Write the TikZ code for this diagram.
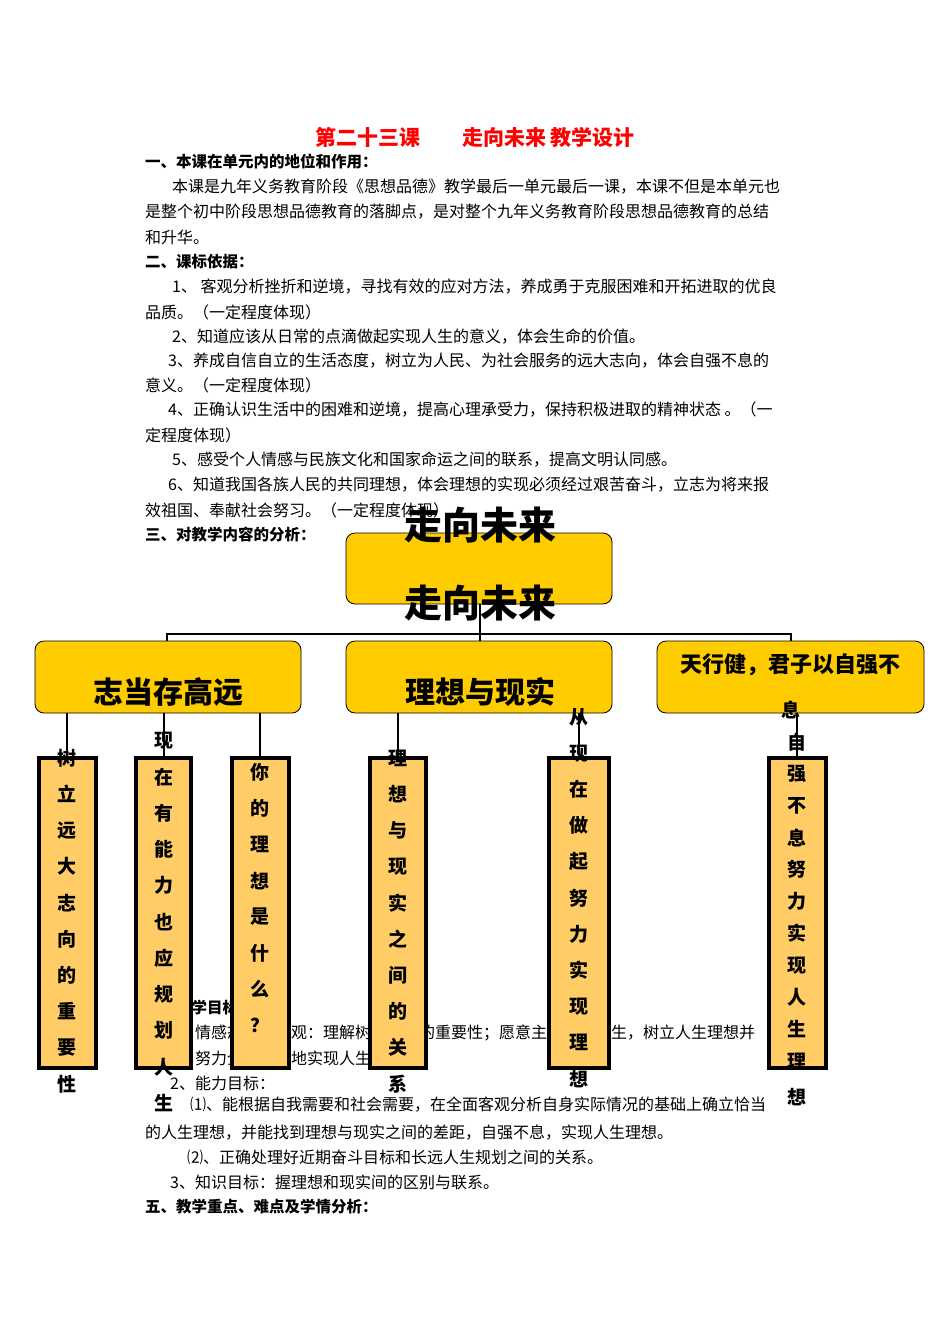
\documentclass[tikz,border=0pt]{standalone}
\usepackage{fontspec}
\setmainfont{Noto Sans CJK SC}
\definecolor{ygold}{HTML}{FFCC00}
\definecolor{ylight}{HTML}{FFCC66}
\begin{document}
\begin{tikzpicture}[x=1pt,y=-1pt,
  body/.style={anchor=west,inner sep=0pt,font=\fontsize{16}{16}\selectfont},
  bbody/.style={body,font=\fontsize{15.5}{16}\selectfont\bfseries},
  ybox/.style={draw=black,line width=0.8pt,fill=ygold,rounded corners=9pt},
  tbox/.style={draw=black,line width=4.5pt,fill=ylight},
  conn/.style={line width=2.5pt},
  vch/.style={inner sep=0pt,font=\fontsize{19}{19}\selectfont\bfseries},
  big/.style={inner sep=0pt,font=\fontsize{38}{38}\selectfont\bfseries}]
\useasboundingbox (0,0) rectangle (950,1344);
\fill[white] (0,0) rectangle (950,1344);
\node[inner sep=0pt,text=red,font=\fontsize{21}{21}\selectfont\bfseries] (title) at (475,137) {第二十三课\hspace{2em}走向未来 教学设计};
\node[bbody] (h1) at (145,162) {一、本课在单元内的地位和作用：};
\node[body] (l1) at (172,187) {本课是九年义务教育阶段《思想品德》教学最后一单元最后一课，本课不但是本单元也};
\node[body] (l2) at (145,212) {是整个初中阶段思想品德教育的落脚点，是对整个九年义务教育阶段思想品德教育的总结};
\node[body] (l3) at (145,237) {和升华。};
\node[bbody] (h2) at (145,262) {二、课标依据：};
\node[body] (l4) at (172,287) {1、 客观分析挫折和逆境，寻找有效的应对方法，养成勇于克服困难和开拓进取的优良};
\node[body] (l5) at (145,312) {品质。（一定程度体现）};
\node[body] (l6) at (172,337) {2、知道应该从日常的点滴做起实现人生的意义，体会生命的价值。};
\node[body] (l7) at (168,361) {3、养成自信自立的生活态度，树立为人民、为社会服务的远大志向，体会自强不息的};
\node[body] (l8) at (145,385) {意义。（一定程度体现）};
\node[body] (l9) at (168,410) {4、正确认识生活中的困难和逆境，提高心理承受力，保持积极进取的精神状态 。（一};
\node[body] (l10) at (145,435) {定程度体现）};
\node[body] (l11) at (172,460) {5、感受个人情感与民族文化和国家命运之间的联系，提高文明认同感。};
\node[body] (l12) at (168,485) {6、知道我国各族人民的共同理想，体会理想的实现必须经过艰苦奋斗，立志为将来报};
\node[body] (l13) at (145,510) {效祖国、奉献社会努习。（一定程度体现）};
\node[bbody] (h3) at (145,535) {三、对教学内容的分析：};
\node[bbody] (h4) at (145,1008) {四、教学目标：};
\node[body] (m1) at (170,1033) {1、情感态度价值观：理解树立理想的重要性；愿意主动规划人生，树立人生理想并};
\node[body] (m2) at (195,1058) {努力全力以赴地实现人生理想。};
\node[body] (m3) at (170,1083) {2、能力目标：};
\node[body] (m4) at (190,1105) {⑴、能根据自我需要和社会需要，在全面客观分析自身实际情况的基础上确立恰当};
\node[body] (m5) at (145,1133) {的人生理想，并能找到理想与现实之间的差距，自强不息，实现人生理想。};
\node[body] (m6) at (187,1157) {⑵、正确处理好近期奋斗目标和长远人生规划之间的关系。};
\node[body] (m7) at (170,1182) {3、知识目标：握理想和现实间的区别与联系。};
\node[bbody] (h5) at (145,1207) {五、教学重点、难点及学情分析：};
% boxes
\draw[ybox] (346,533) rectangle (612,604);
\coordinate (root) at (480,604);
\coordinate (bar) at (480,634);
\draw[ybox] (35,641) rectangle (301,713);
\draw[ybox] (346,641) rectangle (612,713);
\draw[ybox] (657,641) rectangle (924,713);
\coordinate (b1) at (167,641); \coordinate (b3) at (791,641);
\draw[conn] (root) -- (bar);
\draw[conn] (b1) |- (bar) -| (b3);
\draw[conn] (480,634) -- (480,641);
\node[big] (t1) at (480,525) {走向未来};
\node[big] (t2) at (480,603) {走向未来};
\node[inner sep=0pt,font=\fontsize{30}{30}\selectfont\bfseries] (c1) at (168,692) {志当存高远};
\node[inner sep=0pt,font=\fontsize{30}{30}\selectfont\bfseries] (c2) at (480,692) {理想与现实};
\node[inner sep=0pt,font=\fontsize{22}{22}\selectfont\bfseries] (c3) at (790,665) {天行健，君子以自强不};
% tall boxes
\foreach \n/\xa/\xb/\xm in {1/39/96/67,2/136/191/164,3/232/289/260,4/370/426/398,5/549/609/579,6/769/826/797}{
  \draw[tbox] (\xa,758) rectangle (\xb,1068);
  \draw[line width=2pt] (\xm,713) -- (\xm,758);
}
\foreach \c [count=\i from 0] in {树,立,远,大,志,向,的,重,要,性}
  \node[vch] at (67,758+36.2*\i) {\c};
\foreach \c [count=\i from 0] in {现,在,有,能,力,也,应,规,划,人,生}
  \node[vch] at (164,741+36.2*\i) {\c};
\foreach \c [count=\i from 0] in {你,的,理,想,是,什,么,？}
  \node[vch] at (260,772+36.2*\i) {\c};
\foreach \c [count=\i from 0] in {理,想,与,现,实,之,间,的,关,系}
  \node[vch] at (398,758+36.2*\i) {\c};
\foreach \c [count=\i from 0] in {从,现,在,做,起,努,力,实,现,理,想}
  \node[vch] at (579,717+36.2*\i) {\c};
\node[vch] at (791,710) {息};
\foreach \c [count=\i from 0] in {自,强,不,息,努,力,实,现,人,生,理}
  \node[vch] at (797,742+31.9*\i) {\c};
\node[vch] at (797,1097) {想};
\end{tikzpicture}
\end{document}
